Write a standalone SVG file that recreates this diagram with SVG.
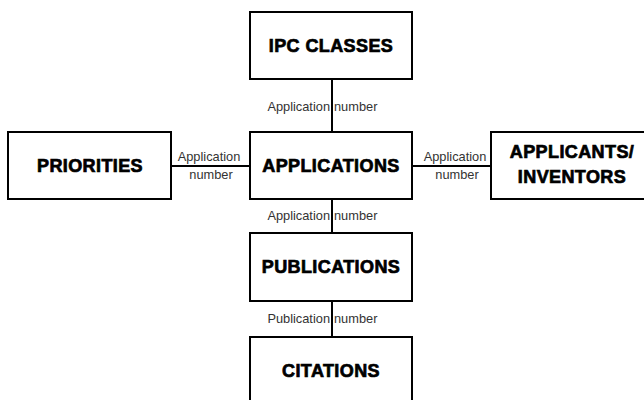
<svg xmlns="http://www.w3.org/2000/svg" width="644" height="400" viewBox="0 0 644 400">
<style>
.box{fill:#fff;stroke:#000;stroke-width:2}
.t{font-family:"Liberation Sans",Arial,sans-serif;font-weight:bold;font-size:18px;letter-spacing:0.4px;fill:#000;stroke:#000;stroke-width:0.7px;text-anchor:middle}
.l{font-family:"Liberation Sans",Arial,sans-serif;font-size:12.8px;fill:#333}
.c{stroke:#000;stroke-width:2;fill:none}
</style>
<rect width="644" height="400" fill="#fff"/>
<g id="connectors">
<line class="c" x1="332" y1="79" x2="332" y2="132"/>
<line class="c" x1="332" y1="199" x2="332" y2="233"/>
<line class="c" x1="332" y1="301" x2="332" y2="337"/>
<line class="c" x1="171" y1="166" x2="250" y2="166"/>
<line class="c" x1="412" y1="166" x2="491" y2="166"/>
<text class="l" x="330" y="111" text-anchor="end">Application</text>
<text class="l" x="334" y="111">number</text>
<text class="l" x="330" y="220" text-anchor="end">Application</text>
<text class="l" x="334" y="220">number</text>
<text class="l" x="330" y="323" text-anchor="end">Publication</text>
<text class="l" x="334" y="323">number</text>
<text class="l" x="209" y="161" text-anchor="middle">Application</text>
<text class="l" x="211" y="179" text-anchor="middle">number</text>
<text class="l" x="455" y="161" text-anchor="middle">Application</text>
<text class="l" x="457" y="179" text-anchor="middle">number</text>
</g>
<g id="ipc">
<rect class="box" x="250" y="12" width="162" height="67"/>
<text class="t" x="331" y="52">IPC CLASSES</text>
</g>
<g id="applications">
<rect class="box" x="250" y="132" width="162" height="67"/>
<text class="t" x="331" y="172">APPLICATIONS</text>
</g>
<g id="priorities">
<rect class="box" x="8" y="132" width="163" height="67"/>
<text class="t" x="90" y="172">PRIORITIES</text>
</g>
<g id="applicants">
<rect class="box" x="491" y="132" width="162" height="67"/>
<text class="t" x="572" y="158">APPLICANTS/</text>
<text class="t" x="572" y="183">INVENTORS</text>
</g>
<g id="publications">
<rect class="box" x="250" y="233" width="162" height="68"/>
<text class="t" x="331" y="273">PUBLICATIONS</text>
</g>
<g id="citations">
<rect class="box" x="250" y="337" width="162" height="67"/>
<text class="t" x="331" y="377">CITATIONS</text>
</g>
</svg>
